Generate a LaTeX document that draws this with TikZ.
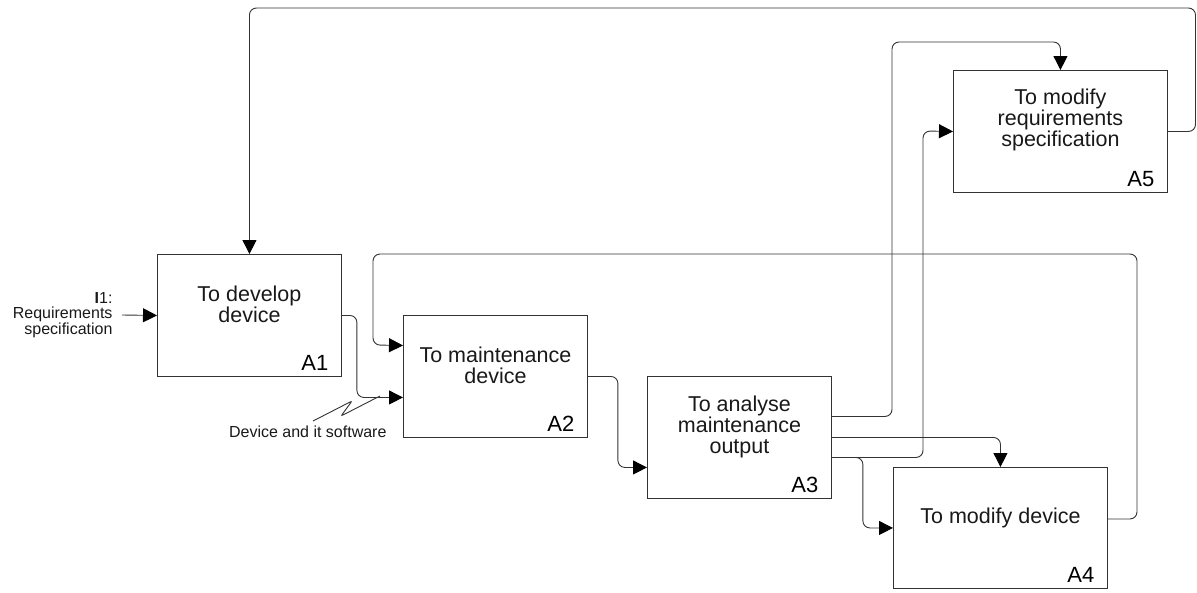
\documentclass[tikz,border=0pt]{standalone}
\usepackage{fontspec}
\setmainfont{Liberation Sans}
\usetikzlibrary{arrows.meta,calc}
\begin{document}
\begin{tikzpicture}[x=1pt,y=-1pt,
  line/.style={draw=black!80, line width=0.9pt, rounded corners=7pt},
  arr/.style={line, -{Triangle[length=14pt,width=14pt,color=black]}},
  box/.style={draw=black!80, line width=0.9pt, fill=white, anchor=north west, inner sep=0pt},
  title/.style={font=\fontsize{21.5}{21}\selectfont, align=center, text=black!90},
  num/.style={font=\fontsize{22}{22}\selectfont, anchor=base east, text=black},
  note/.style={font=\fontsize{16}{15.5}\selectfont, align=right, text=black!90}]
\useasboundingbox (0,0) rectangle (1197,592);

% activity boxes
\node[box, minimum width=184pt, minimum height=122pt] (A1) at (157,254) {};
\node[box, minimum width=184pt, minimum height=122pt] (A2) at (403,315) {};
\node[box, minimum width=184pt, minimum height=122pt] (A3) at (647,376) {};
\node[box, minimum width=214pt, minimum height=121pt] (A4) at (893,467) {};
\node[box, minimum width=214pt, minimum height=122pt] (A5) at (953,70) {};

% box titles
\node[title] (A1t) at ($(A1.center)+(0,-11)$) {To develop\\device};
\node[title] (A2t) at ($(A2.center)+(0,-11)$) {To maintenance\\device};
\node[title] (A3t) at ($(A3.center)+(0,-11)$) {To analyse\\maintenance\\output};
\node[title] (A4t) at ($(A4.center)+(0,-10)$) {To modify device};
\node[title] (A5t) at ($(A5.center)+(0,-12)$) {To modify\\requirements\\specification};

% box numbers
\node[num] (A1n) at ($(A1.south east)+(-10,-6)$) {A1};
\node[num] (A2n) at ($(A2.south east)+(-10,-6)$) {A2};
\node[num] (A3n) at ($(A3.south east)+(-10,-6)$) {A3};
\node[num] (A4n) at ($(A4.south east)+(-10,-6)$) {A4};
\node[num] (A5n) at ($(A5.south east)+(-10,-6)$) {A5};

% external input
\coordinate (in1) at (122,315);
\node[note, anchor=east] (I1) at ($(in1)+(-6,0)$) {\textbf{I}1:\\Requirements\\specification};
\draw[arr] (in1) -- (A1.west);

% A1 -> A2
\draw[arr] (A1.east) -- ++(15,0) |- ($(A2.west)+(0,21)$);

% label of the A1 -> A2 arrow with its squiggle
\node[note, anchor=base east] (dev) at (390,437) {Device and it software};
\coordinate (sq0) at (313,421);
\coordinate (sq1) at (352,401);
\coordinate (sq2) at (341,416);
\coordinate (sq3) at (380,396);
\draw[line, rounded corners=2pt] (sq0) -- (sq1) -- (sq2) -- (sq3);

% A2 -> A3
\draw[arr] (A2.east) -- ++(30,0) |- ($(A3.west)+(0,30)$);

% A3 outputs
\draw[arr] ($(A3.east)+(0,-21)$) -| (892,42) -| (A5.north);
\draw[arr] (A3.east) -| (A4.north);
\draw[arr] ($(A3.east)+(0,20)$) -| (923,131) -- (A5.west);
\draw[arr] ($(A3.east)+(0,20)$) -- ++(31,0) |- (A4.west);

% A4 feedback to A2
\draw[arr] ($(A4.east)+(0,-9)$) -| (1137,254) -| (373,345) -- ($(A2.west)+(0,-31)$);

% A5 feedback to A1
\draw[arr] (A5.east) -| (1195.5,8) -| (A1.north);
\end{tikzpicture}
\end{document}
